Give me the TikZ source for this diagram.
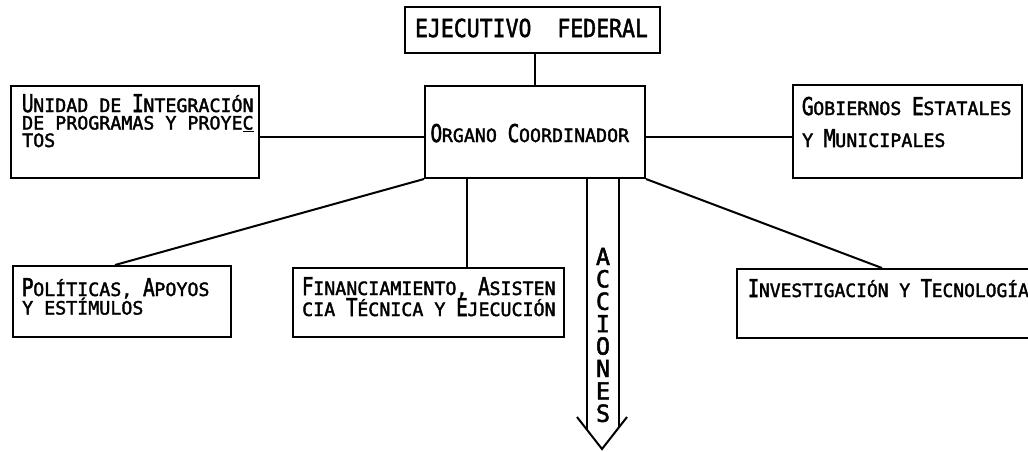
\documentclass[tikz,border=0pt]{standalone}
\usepackage{graphicx}
\usepackage{fontspec}
\setmainfont{DejaVu Sans Mono}[FakeBold=2]
\usetikzlibrary{calc}
\newlength\pitch \setlength\pitch{11.02pt}
\newcommand\BC[1]{\makebox[\pitch]{\scalebox{0.8}[1]{\fontsize{24.5}{24.5}\selectfont #1}}}
\newcommand\Stk[2]{\vtop{\baselineskip=#1\lineskiplimit=-\maxdimen\lineskip=0pt #2}}
\newcommand\Lc[1]{\hbox to 22pt{\hss\fontsize{23.5}{23.5}\selectfont #1\hss}}
\begin{document}
\begin{tikzpicture}[x=1pt,y=-1pt,
  box/.style={draw, line width=2pt, inner sep=0pt, anchor=north west},
  lbl/.style={inner sep=0pt, anchor=base west, font=\fontsize{18.3}{18.3}\selectfont},
  lblc/.style={lbl, anchor=base},
  wire/.style={line width=2pt}]
\fill[white] (0,0) rectangle (1028,451);
\useasboundingbox (0,0) rectangle (1028,451);
% boxes
\node[box, minimum width=255pt, minimum height=46pt] (ef) at (404,6) {};
\node[box, minimum width=220pt, minimum height=92pt] (oc) at (424,85) {};
\node[box, minimum width=248pt, minimum height=92pt] (unidad) at (10,85) {};
\node[box, minimum width=229pt, minimum height=93pt] (gob) at (792,84) {};
\node[box, minimum width=218pt, minimum height=71pt] (pol) at (12,265) {};
\node[box, minimum width=271pt, minimum height=69pt] (fin) at (292,267) {};
\node[box, minimum width=330pt, minimum height=69pt] (inv) at (736,268) {};
% texts
\node[lblc] (eft) at (531.5,37) {\scalebox{1}[1.15]{\fontsize{21.5}{21.5}\selectfont EJECUTIVO\ \ FEDERAL}};
\node[lblc] (oct) at (530,142) {\BC{O}RGANO \BC{C}OORDINADOR};
\node[lbl] (ut) at (22,112) {\Stk{17.5pt}{%
  \hbox{\BC{U}NIDAD DE \BC{I}NTEGRACIÓN}%
  \hbox{DE PROGRAMAS Y PROYE\underline{C}}%
  \hbox{TOS}}};
\node[lbl] (gt) at (802,115) {\Stk{32pt}{%
  \hbox{\BC{G}OBIERNOS \BC{E}STATALES}%
  \hbox{Y \BC{M}UNICIPALES}}};
\node[lbl] (pt) at (22,296) {\Stk{18.5pt}{%
  \hbox{\BC{P}OLÍTICAS, \BC{A}POYOS}%
  \hbox{Y ESTÍMULOS}}};
\node[lbl] (ft) at (302,295) {\Stk{21pt}{%
  \hbox{\BC{F}INANCIAMIENTO, \BC{A}SISTEN}%
  \hbox{CIA \BC{T}ÉCNICA Y \BC{E}JECUCIÓN}}};
\node[lbl] (it) at (748,297) {\scalebox{0.98}[1]{\BC{I}NVESTIGACIÓN Y \BC{T}ECNOLOGÍA}};
\node[lblc] (acc) at (603,265) {\Stk{22.4pt}{%
  \Lc{A}\Lc{C}\Lc{C}\Lc{I}\Lc{O}\Lc{N}\Lc{E}\Lc{S}}};
% connectors
\draw[wire] (oc.north |- ef.south) -- (oc.north);
\draw[wire] ($(unidad.north east)+(0,52)$) -- ($(oc.north west)+(0,52)$);
\draw[wire] ($(oc.north east)+(0,52)$) -- ($(gob.north west)+(0,53)$);
\draw[wire] (oc.south west) -- ($(pol.north west)+(103,0)$);
\draw[wire] ($(oc.south west)+(43,0)$) -- ($(fin.north west)+(175,0)$);
\draw[wire] (oc.south east) -- ($(inv.north west)+(146,0)$);
% arrow ACCIONES
\coordinate (aL) at ($(oc.south west)+(163,0)$);
\coordinate (aR) at ($(oc.south west)+(195,0)$);
\coordinate (tip) at (602,449);
\draw[wire] (aL) -- (aL |- 0,430);
\draw[wire] (aR) -- (aR |- 0,427);
\draw[wire, line join=miter] (577,417) -- (tip) -- (627,417);
\end{tikzpicture}
\end{document}
